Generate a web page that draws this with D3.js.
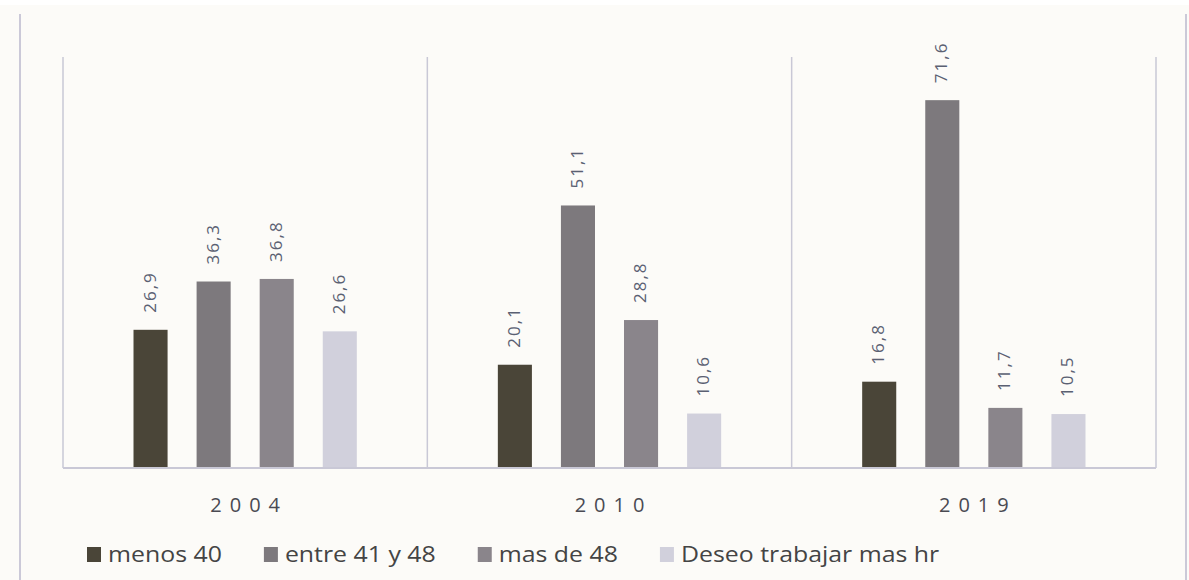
<!DOCTYPE html>
<html lang="es">
  <head>
    <meta charset="utf-8">
    <title>Horas trabajadas</title>
    <script src="https://cdnjs.cloudflare.com/ajax/libs/d3/7.8.5/d3.min.js"></script>
    <style>
      body { margin: 0; background: #ffffff; }
      text { font-family: "Open Sans", "DejaVu Sans", sans-serif; }
    </style>
  </head>
  <body>
    <div class="chart"></div>
    <script>
      // data
      var years = ["2004", "2010", "2019"];
      var seriesNames = ["menos 40", "entre 41 y 48", "mas de 48", "Deseo trabajar mas hr"];
      var menos40 = [26.9, 20.1, 16.8];
      var entre41y48 = [36.3, 51.1, 71.6];
      var masDe48 = [36.8, 28.8, 11.7];
      var deseoMas = [26.6, 10.6, 10.5];
      var colors = ["#4a4538", "#7d797d", "#8a858b", "#d1d0dc"];

      var seriesValues = [menos40, entre41y48, masDe48, deseoMas];

      var svgWidth = 1189;
      var svgHeight = 580;
      var margin = { top: 57, right: 33, bottom: 112, left: 63 };
      var width = svgWidth - margin.left - margin.right;
      var height = svgHeight - margin.top - margin.bottom;

      var svg = d3.select(".chart")
        .append("svg")
        .attr("width", svgWidth)
        .attr("height", svgHeight);

      // background and side borders
      svg.append("rect")
        .attr("x", 0)
        .attr("y", 5)
        .attr("width", svgWidth)
        .attr("height", svgHeight - 5)
        .attr("fill", "#fcfbf8");

      svg.selectAll("line.border")
        .data([20, 1186])
        .enter()
        .append("line")
        .attr("class", "border")
        .attr("x1", d => d)
        .attr("x2", d => d)
        .attr("y1", 14)
        .attr("y2", 580)
        .attr("stroke", "#cbc9d8")
        .attr("stroke-width", 2);

      var chartGroup = svg.append("g")
        .attr("transform", `translate(${margin.left}, ${margin.top})`);

      var x0 = d3.scaleBand()
        .domain(years)
        .range([0, width])
        .padding(0);

      var x1 = d3.scaleBand()
        .domain(seriesNames)
        .range([56, x0.bandwidth() - 56])
        .paddingInner(0.46)
        .paddingOuter(0.23);

      var y = d3.scaleLinear()
        .domain([0, 80])
        .range([height, 0]);

      // category separators
      var seps = d3.range(years.length + 1).map(i => i * x0.step());
      chartGroup.selectAll("line.sep")
        .data(seps)
        .enter()
        .append("line")
        .attr("class", "sep")
        .attr("x1", d => d)
        .attr("x2", d => d)
        .attr("y1", 0)
        .attr("y2", height)
        .attr("stroke", "#c9c8d6")
        .attr("stroke-width", 1.5);

      var rows = [];
      years.forEach(function (yr, i) {
        seriesNames.forEach(function (s, j) {
          rows.push({ year: yr, series: s, value: seriesValues[j][i], color: colors[j] });
        });
      });

      var groups = chartGroup.selectAll("g.bar")
        .data(rows)
        .enter()
        .append("g")
        .attr("class", "bar")
        .attr("transform", d => `translate(${x0(d.year) + x1(d.series)}, 0)`);

      groups.append("rect")
        .attr("x", 0)
        .attr("y", d => y(d.value))
        .attr("width", x1.bandwidth())
        .attr("height", d => height - y(d.value))
        .attr("fill", d => d.color);

      groups.append("text")
        .attr("transform", d => `translate(${x1.bandwidth() / 2 + 5}, ${y(d.value) - 17}) rotate(-90)`)
        .attr("text-anchor", "start")
        .attr("font-size", "17px")
        .attr("letter-spacing", "2px")
        .attr("fill", "#5a6072")
        .text(d => d3.format(".1f")(d.value).replace(".", ","));

      // baseline
      chartGroup.append("line")
        .attr("x1", 0)
        .attr("x2", width)
        .attr("y1", height)
        .attr("y2", height)
        .attr("stroke", "#c9c8d6")
        .attr("stroke-width", 2);

      // category labels
      var xAxis = d3.axisBottom(x0).tickSize(0).tickPadding(0);
      var axisG = chartGroup.append("g")
        .attr("transform", `translate(0, ${height + 30})`)
        .call(xAxis);
      axisG.select(".domain").remove();
      axisG.selectAll("text")
        .attr("font-size", "20px")
        .attr("letter-spacing", "8px")
        .attr("dx", "4")
        .attr("fill", "#4a4a52")
        .attr("font-family", "'Open Sans', sans-serif");

      // legend
      var legend = svg.append("g").attr("transform", "translate(87, 562)");
      var lx = 0;
      seriesNames.forEach(function (s, j) {
        var item = legend.append("g").attr("transform", `translate(${lx}, 0)`);
        item.append("rect")
          .attr("x", 0)
          .attr("y", -15)
          .attr("width", 14)
          .attr("height", 15)
          .attr("fill", colors[j]);
        var t = item.append("text")
          .attr("x", 0)
          .attr("y", 0)
          .attr("font-size", "22px")
          .attr("fill", "#444444")
          .attr("transform", "translate(21, 0) scale(1.13, 1)")
          .text(s);
        lx += 21 + t.node().getComputedTextLength() * 1.13 + 42;
      });
    </script>
  </body>
</html>
